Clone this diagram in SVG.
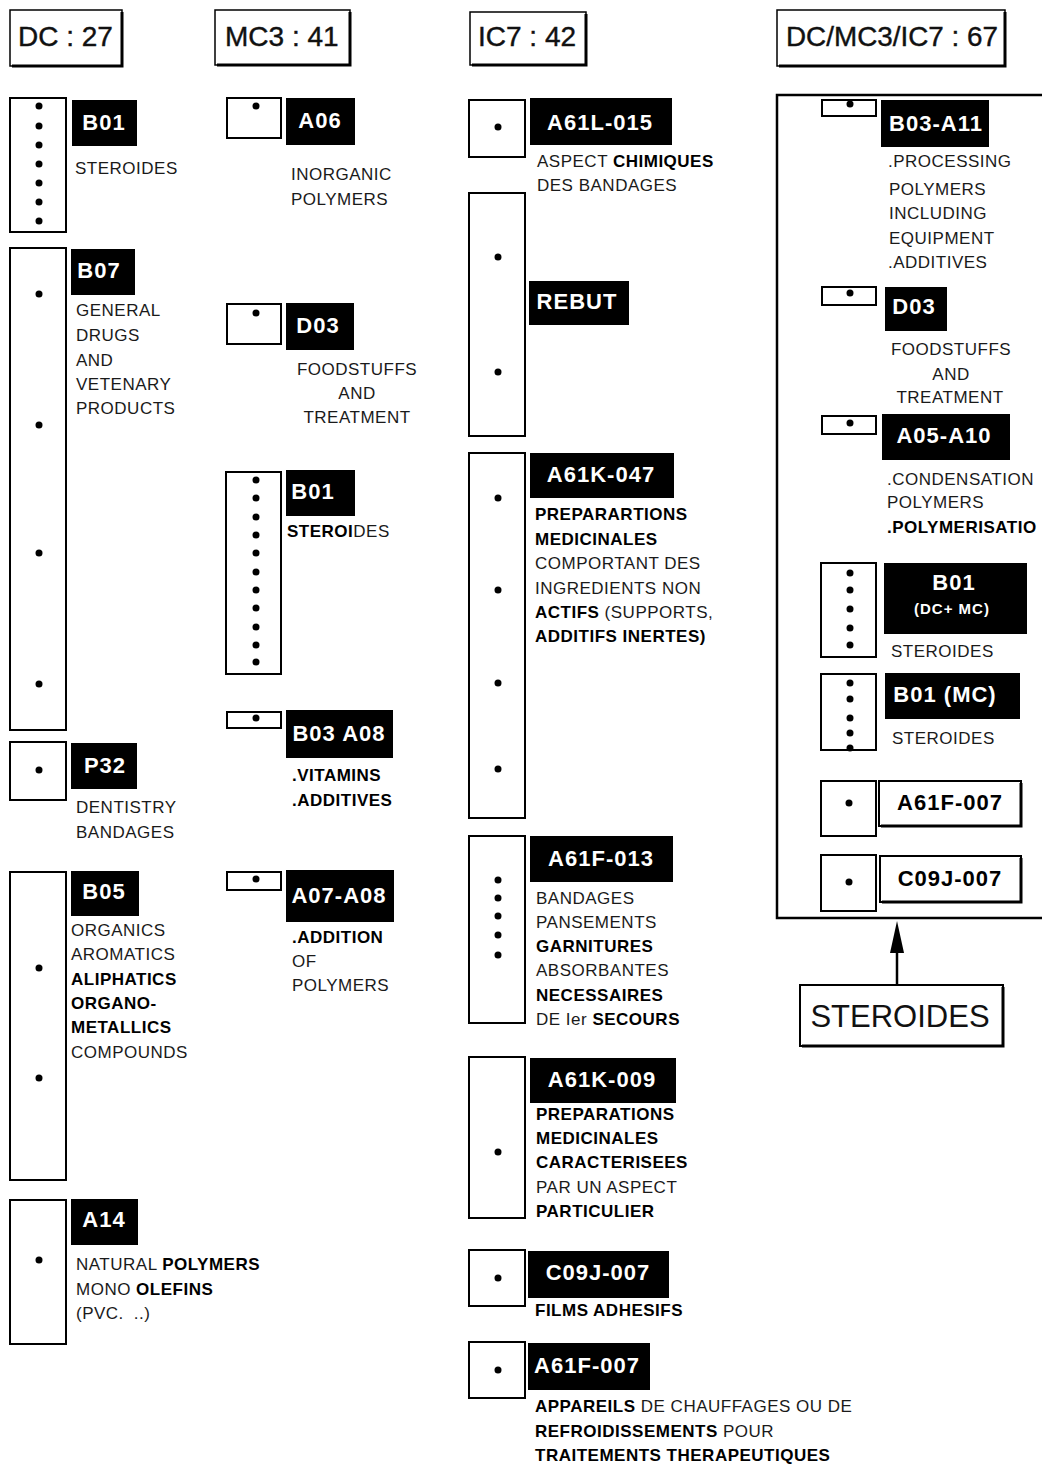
<svg xmlns="http://www.w3.org/2000/svg" width="1042" height="1465" viewBox="0 0 1042 1465">
<style>
.bg{fill:#fff}
.box{fill:#fff;stroke:#000;stroke-width:2}
.hbox{fill:#fff;stroke:#000;stroke-width:1.5}
.sh{fill:none;stroke:#000;stroke-width:3}
.lab{fill:#000}
.lt{fill:#fff;font-family:"Liberation Sans",Arial,sans-serif;font-weight:bold;font-size:22px;letter-spacing:1px;text-anchor:middle}
.lk{fill:#000;font-family:"Liberation Sans",Arial,sans-serif;font-weight:bold;font-size:22px;letter-spacing:1px;text-anchor:middle}
.hd{fill:#111;font-family:"Liberation Sans",Arial,sans-serif;font-size:28px;stroke:#111;stroke-width:0.4}
.tx{fill:#1a1a1a;font-family:"Liberation Sans",Arial,sans-serif;font-size:17px;letter-spacing:0.5px}
.c{text-anchor:middle}
.b{font-weight:bold;fill:#000}
.dot{fill:#000}
.big{fill:#111;font-family:"Liberation Sans",Arial,sans-serif;font-size:31px;text-anchor:middle}
</style>
<defs>
<circle id="d" r="3.5" class="dot"/>
</defs>
<rect class="bg" x="0" y="0" width="1042" height="1465"/>

<!-- headers -->
<g id="hdr-dc"><rect class="hbox" x="10" y="10" width="112" height="56"/><polyline class="sh" points="122,12 122,66 12,66"/><text class="hd" x="18" y="46">DC : 27</text></g>
<g id="hdr-mc3"><rect class="hbox" x="215" y="10" width="135" height="55"/><polyline class="sh" points="350,12 350,65 217,65"/><text class="hd" x="225" y="46">MC3 : 41</text></g>
<g id="hdr-ic7"><rect class="hbox" x="470" y="12" width="116" height="53"/><polyline class="sh" points="586,14 586,65 472,65"/><text class="hd" x="478" y="46">IC7 : 42</text></g>
<g id="hdr-all"><rect class="hbox" x="777" y="10" width="228" height="56"/><polyline class="sh" points="1005,12 1005,66 779,66"/><text class="hd" x="786" y="46" textLength="212" lengthAdjust="spacingAndGlyphs">DC/MC3/IC7 : 67</text></g>

<!-- DC column -->
<g id="dc-b01">
<rect class="box" x="10" y="98" width="56" height="134"/>
<use href="#d" x="39" y="106"/><use href="#d" x="39" y="126"/><use href="#d" x="39" y="145"/><use href="#d" x="39" y="164"/><use href="#d" x="39" y="183"/><use href="#d" x="39" y="202"/><use href="#d" x="39" y="221"/>
<rect class="lab" x="72" y="100" width="65" height="46"/><text class="lt" x="104" y="130">B01</text>
<text class="tx" x="75" y="174">STEROIDES</text>
</g>
<g id="dc-b07">
<rect class="box" x="10" y="248" width="56" height="482"/>
<use href="#d" x="39" y="294"/><use href="#d" x="39" y="425"/><use href="#d" x="39" y="553"/><use href="#d" x="39" y="684"/>
<rect class="lab" x="71" y="249" width="64" height="46"/><text class="lt" x="99" y="278">B07</text>
<text class="tx" x="76" y="316">GENERAL</text><text class="tx" x="76" y="341">DRUGS</text><text class="tx" x="76" y="366">AND</text><text class="tx" x="76" y="390">VETENARY</text><text class="tx" x="76" y="414">PRODUCTS</text>
</g>
<g id="dc-p32">
<rect class="box" x="10" y="742" width="56" height="58"/>
<use href="#d" x="39" y="770"/>
<rect class="lab" x="71" y="743" width="66" height="46"/><text class="lt" x="105" y="773">P32</text>
<text class="tx" x="76" y="813">DENTISTRY</text><text class="tx" x="76" y="838">BANDAGES</text>
</g>
<g id="dc-b05">
<rect class="box" x="10" y="872" width="56" height="308"/>
<use href="#d" x="39" y="968"/><use href="#d" x="39" y="1078"/>
<rect class="lab" x="71" y="871" width="68" height="45"/><text class="lt" x="104" y="899">B05</text>
<text class="tx" x="71" y="936">ORGANICS</text><text class="tx" x="71" y="960">AROMATICS</text><text class="tx b" x="71" y="985">ALIPHATICS</text><text class="tx b" x="71" y="1009">ORGANO-</text><text class="tx b" x="71" y="1033">METALLICS</text><text class="tx" x="71" y="1058">COMPOUNDS</text>
</g>
<g id="dc-a14">
<rect class="box" x="10" y="1200" width="56" height="144"/>
<use href="#d" x="39" y="1260"/>
<rect class="lab" x="71" y="1199" width="67" height="46"/><text class="lt" x="104" y="1227">A14</text>
<text class="tx" x="76" y="1270">NATURAL <tspan class="b">POLYMERS</tspan></text>
<text class="tx" x="76" y="1295">MONO <tspan class="b">OLEFINS</tspan></text>
<text class="tx" x="76" y="1319">(PVC.<tspan dx="10">..)</tspan></text>
</g>

<!-- MC3 column -->
<g id="mc3-a06">
<rect class="box" x="227" y="98" width="54" height="40"/>
<use href="#d" x="256" y="106"/>
<rect class="lab" x="286" y="98" width="69" height="47"/><text class="lt" x="320" y="128">A06</text>
<text class="tx" x="291" y="180">INORGANIC</text><text class="tx" x="291" y="205">POLYMERS</text>
</g>
<g id="mc3-d03">
<rect class="box" x="227" y="304" width="54" height="40"/>
<use href="#d" x="256" y="313"/>
<rect class="lab" x="286" y="303" width="68" height="47"/><text class="lt" x="318" y="333">D03</text>
<text class="tx c" x="357" y="375">FOODSTUFFS</text><text class="tx c" x="357" y="399">AND</text><text class="tx c" x="357" y="423">TREATMENT</text>
</g>
<g id="mc3-b01">
<rect class="box" x="226" y="472" width="55" height="202"/>
<use href="#d" x="256" y="480"/><use href="#d" x="256" y="498"/><use href="#d" x="256" y="517"/><use href="#d" x="256" y="535"/><use href="#d" x="256" y="553"/><use href="#d" x="256" y="572"/><use href="#d" x="256" y="590"/><use href="#d" x="256" y="608"/><use href="#d" x="256" y="627"/><use href="#d" x="256" y="645"/><use href="#d" x="256" y="662"/>
<rect class="lab" x="286" y="470" width="69" height="46"/><text class="lt" x="313" y="499">B01</text>
<text class="tx" x="287" y="537"><tspan class="b">STEROI</tspan>DES</text>
</g>
<g id="mc3-b03a08">
<rect class="box" x="227" y="712" width="54" height="16"/>
<use href="#d" x="256" y="718"/>
<rect class="lab" x="286" y="710" width="107" height="48"/><text class="lt" x="339" y="741">B03 A08</text>
<text class="tx b" x="292" y="781">.VITAMINS</text><text class="tx b" x="292" y="806">.ADDITIVES</text>
</g>
<g id="mc3-a07a08">
<rect class="box" x="227" y="872" width="54" height="18"/>
<use href="#d" x="256" y="879"/>
<rect class="lab" x="286" y="870" width="108" height="52"/><text class="lt" x="339" y="903">A07-A08</text>
<text class="tx b" x="292" y="943">.ADDITION</text><text class="tx" x="292" y="967">OF</text><text class="tx" x="292" y="991">POLYMERS</text>
</g>

<!-- IC7 column -->
<g id="ic7-a61l015">
<rect class="box" x="469" y="100" width="56" height="57"/>
<use href="#d" x="498" y="127"/>
<rect class="lab" x="530" y="98" width="142" height="47"/><text class="lt" x="600" y="130">A61L-015</text>
<text class="tx" x="537" y="167">ASPECT <tspan class="b">CHIMIQUES</tspan></text>
<text class="tx" x="537" y="191">DES BANDAGES</text>
</g>
<g id="ic7-rebut">
<rect class="box" x="469" y="193" width="56" height="243"/>
<use href="#d" x="498" y="257"/><use href="#d" x="498" y="372"/>
<rect class="lab" x="529" y="281" width="100" height="44"/><text class="lt" x="577" y="309">REBUT</text>
</g>
<g id="ic7-a61k047">
<rect class="box" x="469" y="453" width="56" height="365"/>
<use href="#d" x="498" y="498"/><use href="#d" x="498" y="590"/><use href="#d" x="498" y="683"/><use href="#d" x="498" y="769"/>
<rect class="lab" x="530" y="453" width="144" height="45"/><text class="lt" x="601" y="482">A61K-047</text>
<text class="tx b" x="535" y="520">PREPARARTIONS</text>
<text class="tx b" x="535" y="545">MEDICINALES</text>
<text class="tx" x="535" y="569">COMPORTANT DES</text>
<text class="tx" x="535" y="594">INGREDIENTS NON</text>
<text class="tx" x="535" y="618"><tspan class="b">ACTIFS</tspan> (SUPPORTS,</text>
<text class="tx b" x="535" y="642">ADDITIFS INERTES)</text>
</g>
<g id="ic7-a61f013">
<rect class="box" x="469" y="836" width="56" height="187"/>
<use href="#d" x="498" y="880"/><use href="#d" x="498" y="898"/><use href="#d" x="498" y="916"/><use href="#d" x="498" y="935"/><use href="#d" x="498" y="955"/>
<rect class="lab" x="530" y="836" width="143" height="46"/><text class="lt" x="601" y="866">A61F-013</text>
<text class="tx" x="536" y="904">BANDAGES</text>
<text class="tx" x="536" y="928">PANSEMENTS</text>
<text class="tx b" x="536" y="952">GARNITURES</text>
<text class="tx" x="536" y="976">ABSORBANTES</text>
<text class="tx b" x="536" y="1001">NECESSAIRES</text>
<text class="tx" x="536" y="1025">DE Ier <tspan class="b">SECOURS</tspan></text>
</g>
<g id="ic7-a61k009">
<rect class="box" x="469" y="1057" width="56" height="161"/>
<use href="#d" x="498" y="1152"/>
<rect class="lab" x="530" y="1058" width="146" height="45"/><text class="lt" x="602" y="1087">A61K-009</text>
<text class="tx b" x="536" y="1120">PREPARATIONS</text>
<text class="tx b" x="536" y="1144">MEDICINALES</text>
<text class="tx b" x="536" y="1168">CARACTERISEES</text>
<text class="tx" x="536" y="1193">PAR UN ASPECT</text>
<text class="tx b" x="536" y="1217">PARTICULIER</text>
</g>
<g id="ic7-c09j007">
<rect class="box" x="469" y="1250" width="56" height="56"/>
<use href="#d" x="498" y="1278"/>
<rect class="lab" x="528" y="1251" width="141" height="47"/><text class="lt" x="598" y="1280">C09J-007</text>
<text class="tx b" x="535" y="1316">FILMS ADHESIFS</text>
</g>
<g id="ic7-a61f007">
<rect class="box" x="469" y="1342" width="56" height="56"/>
<use href="#d" x="498" y="1370"/>
<rect class="lab" x="528" y="1343" width="122" height="47"/><text class="lt" x="587" y="1373">A61F-007</text>
<text class="tx" x="535" y="1412"><tspan class="b">APPAREILS</tspan> DE CHAUFFAGES OU DE</text>
<text class="tx" x="535" y="1437"><tspan class="b">REFROIDISSEMENTS</tspan> POUR</text>
<text class="tx b" x="535" y="1461">TRAITEMENTS THERAPEUTIQUES</text>
</g>

<!-- combined column -->
<g id="all-frame"><polyline points="1042,95 777,95 777,918 1042,918" fill="none" stroke="#000" stroke-width="2.5"/></g>
<g id="all-b03a11">
<rect class="box" x="822" y="100" width="54" height="16"/>
<use href="#d" x="850" y="104"/>
<rect class="lab" x="881" y="100" width="108" height="47"/><text class="lt" x="936" y="131">B03-A11</text>
<text class="tx" x="888" y="167">.PROCESSING</text>
<text class="tx" x="889" y="195">POLYMERS</text>
<text class="tx" x="889" y="219">INCLUDING</text>
<text class="tx" x="889" y="244">EQUIPMENT</text>
<text class="tx" x="888" y="268">.ADDITIVES</text>
</g>
<g id="all-d03">
<rect class="box" x="822" y="287" width="54" height="18"/>
<use href="#d" x="850" y="293"/>
<rect class="lab" x="885" y="287" width="62" height="44"/><text class="lt" x="914" y="314">D03</text>
<text class="tx c" x="951" y="355">FOODSTUFFS</text>
<text class="tx c" x="951" y="380">AND</text>
<text class="tx c" x="950" y="403">TREATMENT</text>
</g>
<g id="all-a05a10">
<rect class="box" x="822" y="416" width="54" height="18"/>
<use href="#d" x="850" y="423"/>
<rect class="lab" x="882" y="414" width="128" height="46"/><text class="lt" x="944" y="443">A05-A10</text>
<text class="tx" x="887" y="485">.CONDENSATION</text>
<text class="tx" x="887" y="508">POLYMERS</text>
<text class="tx b" x="887" y="533">.POLYMERISATIO</text>
</g>
<g id="all-b01dcmc">
<rect class="box" x="821" y="563" width="55" height="94"/>
<use href="#d" x="850" y="573"/><use href="#d" x="850" y="590"/><use href="#d" x="850" y="609"/><use href="#d" x="850" y="628"/><use href="#d" x="850" y="645"/>
<rect class="lab" x="884" y="563" width="143" height="71"/>
<text class="lt" x="954" y="590">B01</text>
<text class="lt" x="952" y="614" style="font-size:15px">(DC+ MC)</text>
<text class="tx" x="891" y="657">STEROIDES</text>
</g>
<g id="all-b01mc">
<rect class="box" x="821" y="674" width="55" height="76"/>
<use href="#d" x="850" y="683"/><use href="#d" x="850" y="699"/><use href="#d" x="850" y="718"/><use href="#d" x="850" y="733"/><use href="#d" x="850" y="748"/>
<rect class="lab" x="885" y="673" width="135" height="46"/><text class="lt" x="945" y="702">B01 (MC)</text>
<text class="tx" x="892" y="744">STEROIDES</text>
</g>
<g id="all-a61f007">
<rect class="box" x="821" y="781" width="55" height="55"/>
<use href="#d" x="849" y="803"/>
<rect class="box" x="879" y="781" width="142" height="45"/><polyline class="sh" points="1021,783 1021,826 881,826"/>
<text class="lk" x="950" y="810">A61F-007</text>
</g>
<g id="all-c09j007">
<rect class="box" x="821" y="855" width="55" height="56"/>
<use href="#d" x="849" y="882"/>
<rect class="box" x="880" y="856" width="141" height="46"/><polyline class="sh" points="1021,858 1021,902 882,902"/>
<text class="lk" x="950" y="886">C09J-007</text>
</g>
<g id="steroides">
<rect class="box" x="800" y="985" width="203" height="61"/><polyline class="sh" points="1003,987 1003,1046 802,1046"/>
<text class="big" x="900" y="1027">STEROIDES</text>
</g>

<!-- connectors -->
<g id="connectors">
<line x1="897" y1="985" x2="897" y2="948" stroke="#000" stroke-width="2.5"/>
<polygon points="897,921 890,953 904,953" fill="#000"/>
</g>
</svg>
